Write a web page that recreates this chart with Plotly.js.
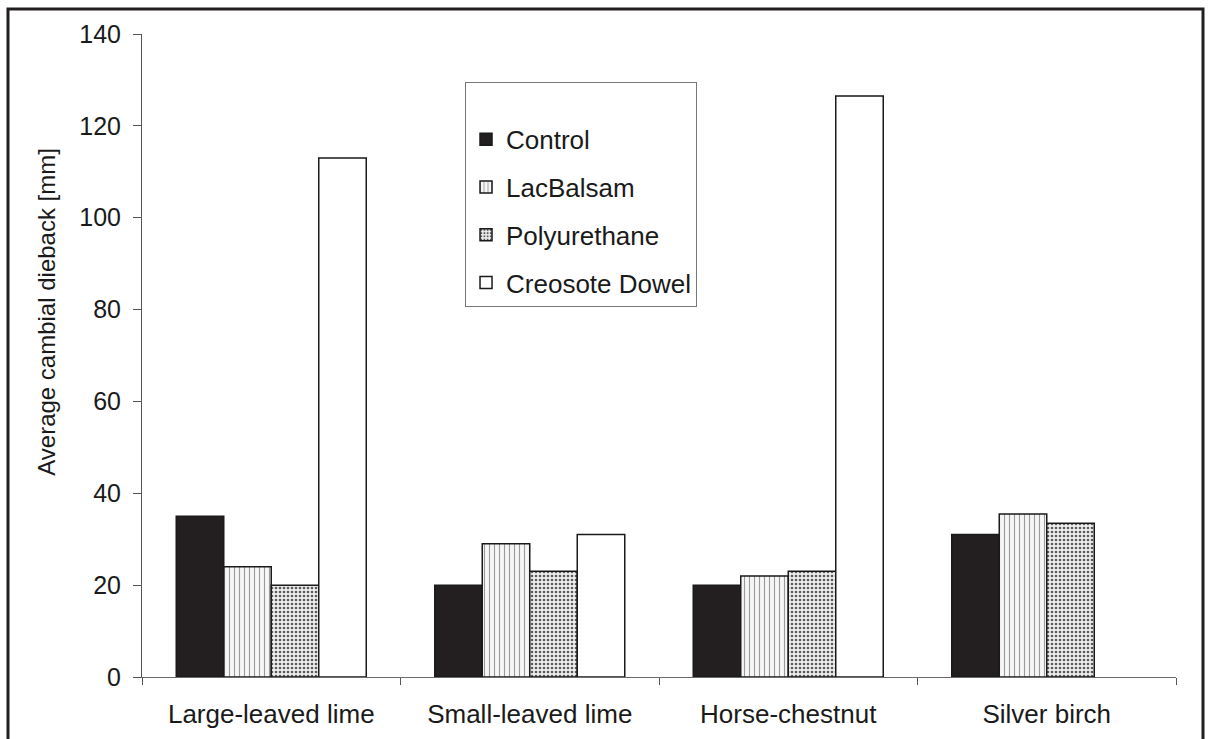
<!DOCTYPE html>
<html>
<head>
<meta charset="utf-8">
<script src="https://cdn.plot.ly/plotly-3.0.1.min.js"></script>
<style>html,body{margin:0;padding:0;background:#fff;}#chart{width:1210px;height:739px;}</style>
</head>
<body>
<div id="chart"></div>
<script>
var categories = ["Large-leaved lime", "Small-leaved lime", "Horse-chestnut", "Silver birch"];
var seriesNames = ["Control", "LacBalsam", "Polyurethane", "Creosote Dowel"];
var control = [35, 20, 20, 31];
var lacBalsam = [24, 29, 22, 35.5];
var polyurethane = [20, 23, 23, 33.5];
var creosoteDowel = [113, 31, 126.5, null];
var yTicks = [0, 20, 40, 60, 80, 100, 120, 140];
var yTitle = "Average cambial dieback [mm]";

var lineStyle = {color: "#1a1a1a", width: 1.5};
var traces = [
  {name: seriesNames[0], y: control, marker: {color: "#231f20", line: lineStyle}},
  {name: seriesNames[1], y: lacBalsam, marker: {color: "#ffffff", line: lineStyle,
     pattern: {shape: "|", fgcolor: "#9a9a9a", bgcolor: "#f6f6f6", size: 5, solidity: 0.22}}},
  {name: seriesNames[2], y: polyurethane, marker: {color: "#ffffff", line: lineStyle,
     pattern: {shape: ".", fgcolor: "#5a5a5a", bgcolor: "#eeeeee", size: 4, solidity: 0.35}}},
  {name: seriesNames[3], y: creosoteDowel, marker: {color: "#ffffff", line: lineStyle}}
].map(function (t, i) {
  t.type = "bar";
  t.x = categories;
  t.legendgroup = "g" + i;
  t.hoverinfo = "y";
  return t;
});

var layout = {
  width: 1210, height: 739,
  margin: {l: 142, r: 34, t: 34, b: 62},
  paper_bgcolor: "#ffffff", plot_bgcolor: "#ffffff",
  font: {family: "Liberation Sans, Arial, sans-serif", size: 25, color: "#1a1a1a"},
  barmode: "group", bargap: 0.265, bargroupgap: 0,
  showlegend: true,
  legend: {x: 0.3124, y: 0.925, xanchor: "left", yanchor: "top",
    bgcolor: "#ffffff", bordercolor: "#777777", borderwidth: 1,
    title: {text: " ", font: {size: 25}},
    font: {size: 26, color: "#1a1a1a"}, tracegroupgap: 11, traceorder: "grouped",
    entrywidth: 205, entrywidthmode: "pixels"},
  xaxis: {type: "category", range: [-0.5, 3.5], showline: true, linecolor: "#6a6a6a", linewidth: 1,
    ticks: "outside", tickson: "boundaries", ticklen: 7, tickcolor: "#555555", tickwidth: 1,
    showgrid: false, zeroline: false, tickfont: {size: 26}, ticklabelstandoff: 14},
  yaxis: {range: [0, 140], tickvals: yTicks, showline: true, linecolor: "#555555", linewidth: 1,
    ticks: "outside", ticklen: 8, tickcolor: "#555555", tickwidth: 1,
    showgrid: false, zeroline: false, tickfont: {size: 25}, ticklabelstandoff: 7},
  xaxis2: {overlaying: "x", anchor: "y2", range: [-0.5, 3.5], tickvals: [-0.5, 0.5, 1.5, 2.5, 3.5],
    ticks: "inside", ticklen: 7, tickcolor: "#555555", tickwidth: 1,
    showticklabels: false, showline: false, showgrid: false, zeroline: false},
  yaxis2: {overlaying: "y", anchor: "x", side: "left", range: [0, 140], tickvals: yTicks,
    ticks: "inside", ticklen: 8, tickcolor: "#555555", tickwidth: 1,
    showticklabels: false, showline: false, showgrid: false, zeroline: false},
  annotations: [{text: yTitle, textangle: -90, xref: "paper", yref: "paper",
    x: -95 / 1034, y: 0.568, xanchor: "center", yanchor: "middle", showarrow: false,
    font: {size: 24, color: "#1a1a1a"}}],
  shapes: [{type: "rect", xref: "paper", yref: "paper",
    x0: -134 / 1034, x1: 1061 / 1034, y0: -100 / 643, y1: 668 / 643,
    line: {color: "#231f20", width: 3}, layer: "below"}]
};

Plotly.newPlot("chart", traces, layout, {displayModeBar: false, staticPlot: true});
</script>
</body>
</html>
